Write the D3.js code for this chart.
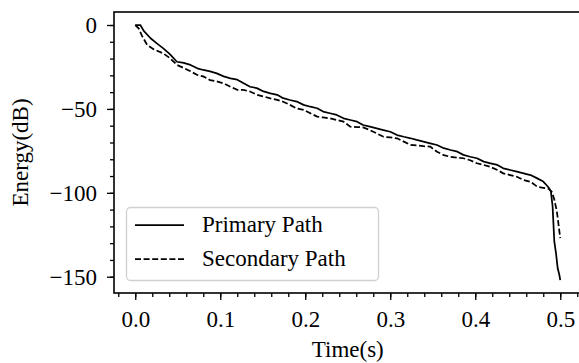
<!DOCTYPE html>
<html><head><meta charset="utf-8">
<script src="https://cdn.jsdelivr.net/npm/d3@7"></script>
<style>body{margin:0;background:#fff;} svg{display:block;} text{font-family:"Liberation Serif",serif;fill:#000;}</style>
</head><body><svg id="c" width="579" height="363"></svg>
<script>
const primaryT  = [0.000,0.006,0.010,0.018,0.025,0.033,0.041,0.049,0.057,0.065,0.073,0.080,0.088,0.096,0.104,0.112,0.120,0.127,0.135,0.143,0.151,0.159,0.167,0.174,0.182,0.190,0.198,0.206,0.214,0.221,0.229,0.237,0.245,0.253,0.261,0.268,0.276,0.284,0.292,0.300,0.308,0.316,0.324,0.331,0.339,0.347,0.355,0.363,0.371,0.379,0.386,0.394,0.402,0.410,0.418,0.426,0.433,0.441,0.449,0.457,0.465,0.473,0.480,0.484,0.487,0.489,0.491,0.493,0.495,0.497,0.499,0.500];
const primaryDb = [0,0,-3.5,-7.9,-10.8,-13.9,-17.5,-21.9,-22.6,-23.8,-25.8,-26.8,-27.6,-28.8,-30.6,-31.8,-32.6,-34.6,-36.8,-37.6,-39.6,-40.7,-41.6,-43.6,-44.7,-45.6,-47.6,-48.7,-49.6,-51.6,-52.6,-53.6,-55.6,-56.6,-57.6,-59.6,-60.6,-61.6,-62.6,-63.6,-65.6,-66.6,-67.5,-68.5,-69.5,-70.5,-71.5,-73.4,-74.5,-75.5,-77.4,-78.5,-79.4,-81.4,-82.4,-83.4,-85.4,-86.4,-87.4,-88.4,-89.4,-91.4,-93.3,-95.5,-97.3,-99.3,-108,-129,-136,-145,-149,-152];
const secondaryT  = [0.000,0.004,0.008,0.014,0.022,0.033,0.041,0.049,0.057,0.065,0.073,0.080,0.088,0.096,0.104,0.112,0.120,0.127,0.135,0.143,0.151,0.159,0.167,0.174,0.182,0.190,0.198,0.206,0.214,0.221,0.229,0.237,0.245,0.253,0.261,0.268,0.276,0.284,0.292,0.300,0.308,0.316,0.324,0.331,0.339,0.347,0.355,0.363,0.371,0.379,0.386,0.394,0.402,0.410,0.418,0.426,0.433,0.441,0.449,0.457,0.465,0.473,0.480,0.486,0.490,0.493,0.496,0.498,0.500];
const secondaryDb = [0,-2,-6.5,-11.9,-14.6,-16.9,-19.8,-23.8,-25.6,-27.6,-29.8,-30.6,-32.8,-33.6,-34.8,-36.8,-38.6,-38.7,-39.6,-41.6,-42.6,-43.7,-44.6,-45.7,-47.6,-49.7,-50.6,-52.6,-54.6,-55.1,-55.6,-56.6,-57.6,-60.6,-60.8,-61.0,-62.6,-64.6,-66.6,-67.0,-67.5,-69.5,-71.5,-71.8,-72.2,-72.5,-75.5,-77.5,-78.6,-79.0,-79.4,-80.6,-82.4,-83.4,-84.6,-86.4,-88.4,-89.4,-90.4,-92.4,-93.4,-96.4,-97.0,-97.5,-99.3,-104,-111,-119,-127];
const xTicks = [0.0,0.1,0.2,0.3,0.4,0.5];
const xTickLabels = ["0.0","0.1","0.2","0.3","0.4","0.5"];
const yTicks = [0,-50,-100,-150];
const yTickLabels = ["0","\u221250","\u2212100","\u2212150"];
const seriesNames = ["Primary Path","Secondary Path"];

const svg = d3.select("#c");
const L=114, R=581.5, T=12, B=293;
const x = d3.scaleLinear().domain([-0.025,0.525]).range([L,R]);
const y = d3.scaleLinear().domain([-159.7,7.75]).range([B,T]);

const line = d3.line().x(d=>x(d[0])).y(d=>y(d[1]));
const prim = primaryT.map((t,i)=>[t,primaryDb[i]]);
const sec = secondaryT.map((t,i)=>[t,secondaryDb[i]]);
svg.append("path").attr("d",line(prim)).attr("fill","none").attr("stroke","#000").attr("stroke-width",1.75).attr("stroke-linejoin","round");
svg.append("path").attr("d",line(sec)).attr("fill","none").attr("stroke","#000").attr("stroke-width",1.75).attr("stroke-dasharray","6,2.6");

// axes
const fs = 23;
const gx = svg.append("g").attr("transform",`translate(0,${B})`);
gx.call(d3.axisBottom(x).tickValues(d3.range(-0.02,0.53,0.02)).tickSize(4).tickFormat(""));
gx.call(g=>g.select(".domain").remove());
const gx2 = svg.append("g").attr("transform",`translate(0,${B})`);
gx2.call(d3.axisBottom(x).tickValues(xTicks).tickSize(7).tickFormat((d,i)=>xTickLabels[i]));
gx2.call(g=>g.select(".domain").remove());
gx2.selectAll("text").attr("font-size",fs).attr("font-family","Liberation Serif").attr("y",34).attr("dy",0);

const gy = svg.append("g").attr("transform",`translate(${L},0)`);
gy.call(d3.axisLeft(y).tickValues(d3.range(-150,8,10)).tickSize(4).tickFormat(""));
gy.call(g=>g.select(".domain").remove());
const gy2 = svg.append("g").attr("transform",`translate(${L},0)`);
gy2.call(d3.axisLeft(y).tickValues(yTicks).tickSize(7).tickPadding(10).tickFormat((d,i)=>yTickLabels[i]));
gy2.call(g=>g.select(".domain").remove());
gy2.selectAll("text").attr("font-size",fs).attr("font-family","Liberation Serif");
svg.selectAll(".tick line").attr("stroke","#000").attr("stroke-width",1.3);

svg.append("rect").attr("x",L).attr("y",T).attr("width",R-L).attr("height",B-T).attr("fill","none").attr("stroke","#000").attr("stroke-width",1.6);

// labels
svg.append("text").attr("x",(L+R)/2).attr("y",357).attr("text-anchor","middle").attr("font-size",fs).text("Time(s)");
svg.append("text").attr("transform",`translate(28,${(T+B)/2}) rotate(-90)`).attr("text-anchor","middle").attr("font-size",fs).text("Energy(dB)");

// legend
const lg = svg.append("g");
lg.append("rect").attr("x",126.5).attr("y",207.5).attr("width",252).attr("height",73).attr("rx",4).attr("fill","#fff").attr("fill-opacity",0.8).attr("stroke","#d0d0d0").attr("stroke-width",1.3);
[0,1].forEach(i=>{
  const yy = 225 + i*34;
  lg.append("line").attr("x1",135).attr("x2",184).attr("y1",yy).attr("y2",yy).attr("stroke","#000").attr("stroke-width",1.75).attr("stroke-dasharray", i? "6,2.6":null);
  lg.append("text").attr("x",202).attr("y",yy+7).attr("font-size",fs).text(seriesNames[i]);
});
</script></body></html>
